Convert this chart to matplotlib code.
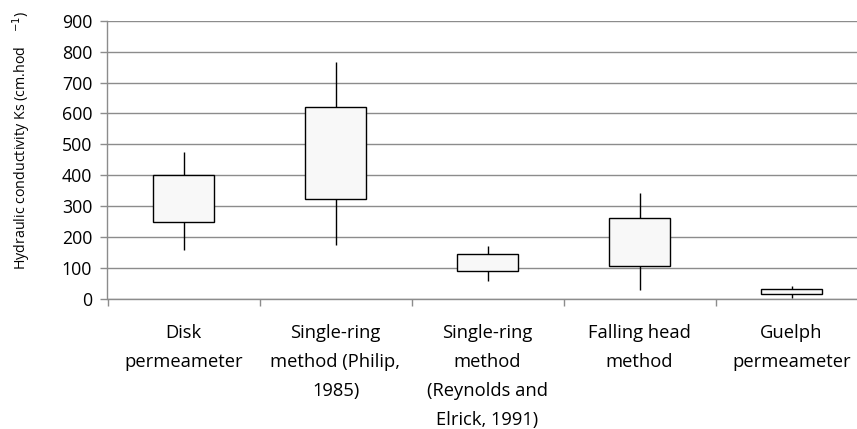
import numpy as np
import matplotlib
matplotlib.use('Agg')
import matplotlib.pyplot as plt
from matplotlib.ticker import FixedLocator

plt.rcParams['font.family'] = ['Open Sans', 'DejaVu Sans']

# dati (cm/h)
metodi = ['Disk\npermeameter',
          'Single-ring\nmethod (Philip,\n1985)',
          'Single-ring\nmethod\n(Reynolds and\nElrick, 1991)',
          'Falling head\nmethod',
          'Guelph\npermeameter']
ks_min = [160, 175, 57, 30, 2]
ks_q1 = [250, 325, 90, 107, 16]
ks_q3 = [400, 620, 145, 262, 32]
ks_max = [477, 768, 172, 342, 41]

x = np.arange(len(metodi))

fig = plt.figure(figsize=(8.57, 4.29), dpi=100)
ax = fig.add_axes([107.5/857, 130/429, 760/857, 278.3/429])

grigio = '#8c8c8c'
ax.set_axisbelow(True)
ax.yaxis.grid(True, color=grigio, linewidth=1)

# baffi
ax.vlines(x, ks_min, ks_max, color='black', linewidth=1, zorder=2)
# scatole
alt = np.array(ks_q3) - np.array(ks_q1)
ax.bar(x, alt, bottom=ks_q1, width=0.4, color='#f8f8f8', edgecolor='black',
       linewidth=1, zorder=3)

ax.set_xlim(-0.5, 4.5)
ax.set_ylim(0, 900)
ax.set_yticks(np.arange(0, 901, 100))
ax.tick_params(axis='y', length=5, width=1, color=grigio, pad=6, labelsize=12.8)

ax.xaxis.set_major_locator(FixedLocator(np.arange(-0.5, 4.6, 1)))
ax.xaxis.set_minor_locator(FixedLocator(x))
ax.set_xticklabels([])
ax.set_xticklabels(metodi, minor=True, fontsize=13.2, linespacing=1.78)
ax.tick_params(axis='x', which='major', length=5, width=1, color=grigio)
ax.tick_params(axis='x', which='minor', length=0, pad=18)

for s in ['top', 'right']:
    ax.spines[s].set_visible(False)
for s in ['left', 'bottom']:
    ax.spines[s].set_color(grigio)
    ax.spines[s].set_linewidth(1)

fig.text(22/857, 1 - 140/429, 'Hydraulic conductivity Ks (cm.hod    $^{-1}$)',
         rotation=90, fontsize=10.3, ha='center', va='center')

fig.savefig('out.png', dpi=100)
